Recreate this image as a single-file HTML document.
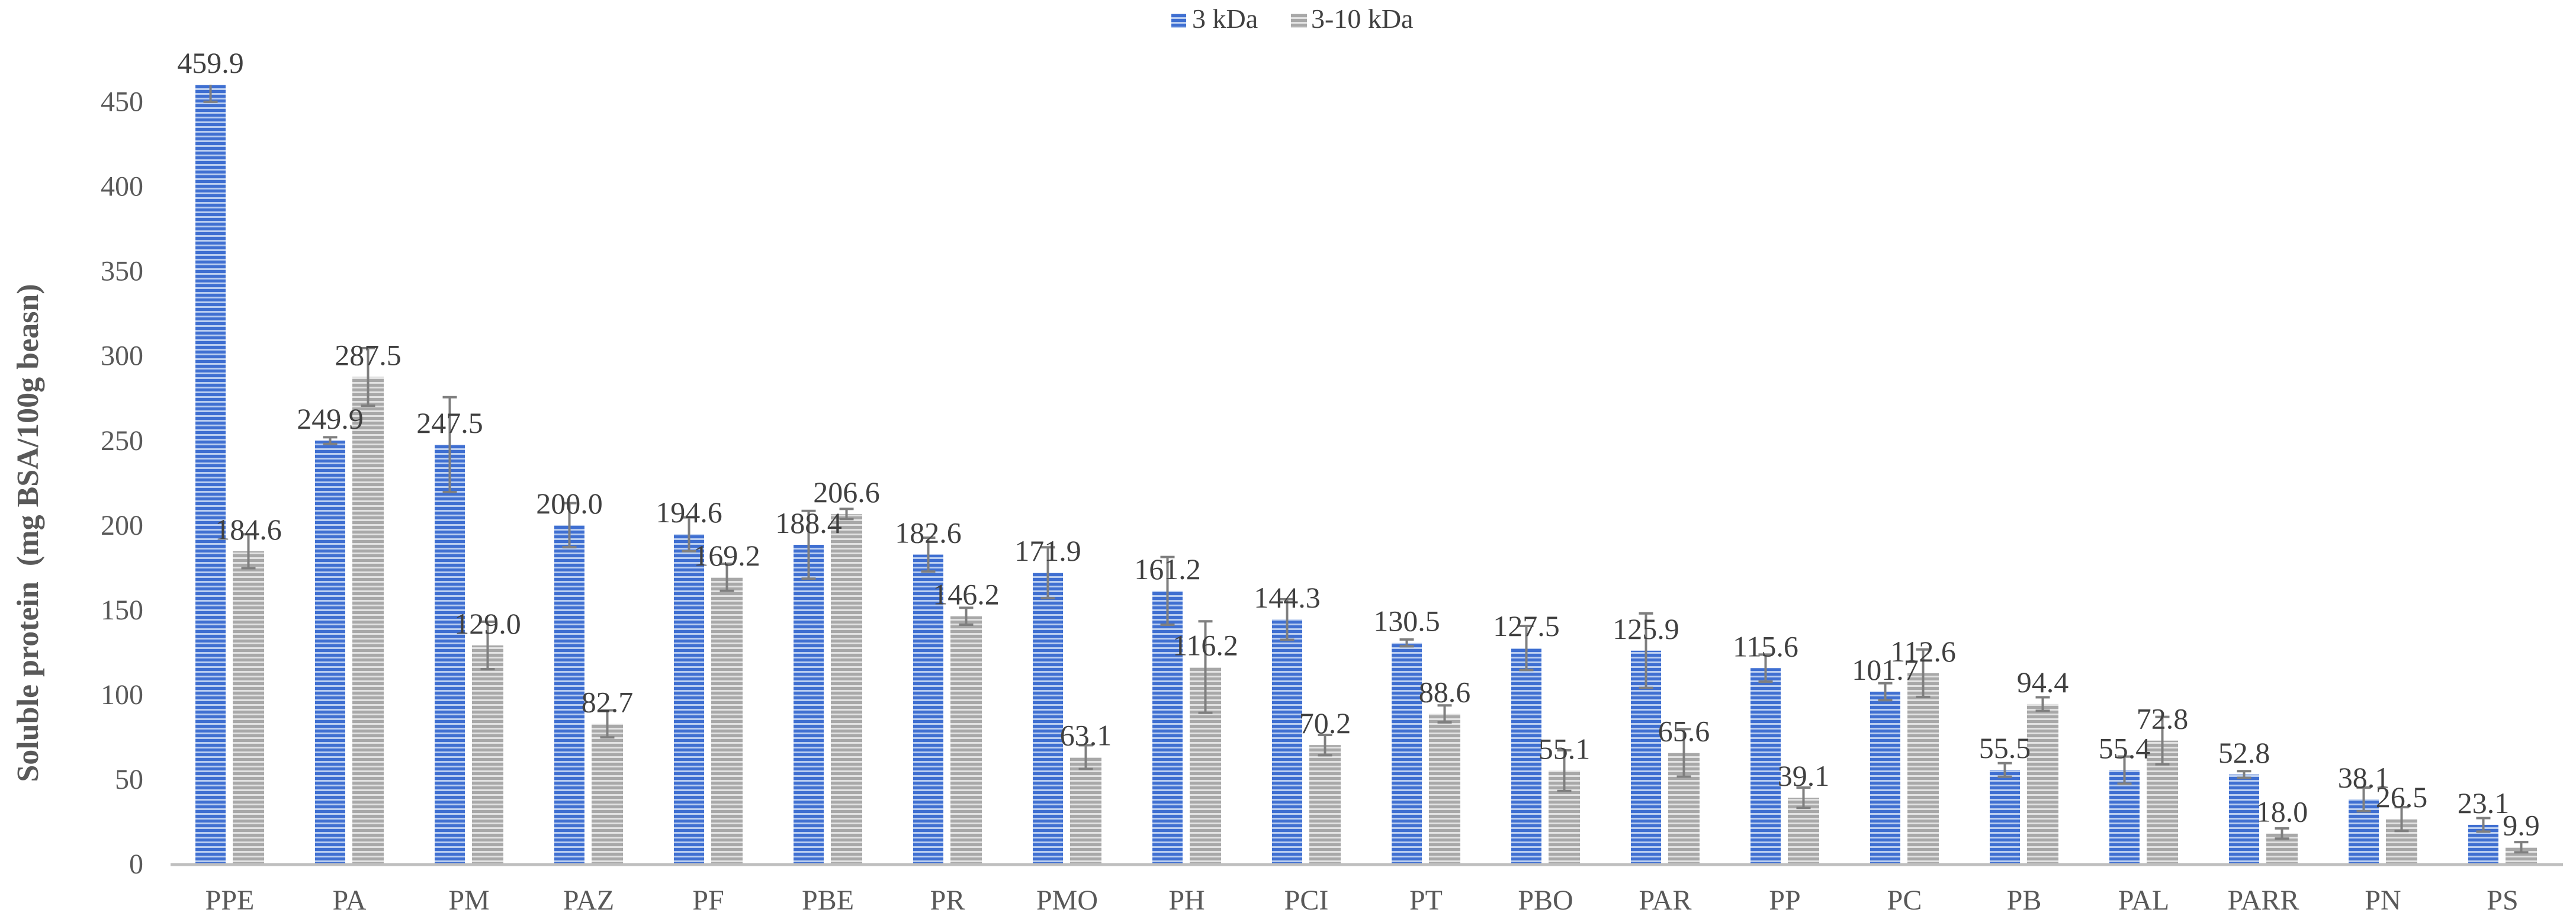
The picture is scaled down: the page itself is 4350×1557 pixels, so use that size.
<!DOCTYPE html>
<html><head><meta charset="utf-8"><style>
html,body{margin:0;padding:0;background:#fff;}
svg{display:block;font-family:"Liberation Serif",serif;}
</style></head><body>
<svg id="chart" width="4350" height="1557" viewBox="0 0 4350 1557">
<defs>
<pattern id="pBlue" width="8" height="8" patternUnits="userSpaceOnUse">
<rect width="8" height="8" fill="#3f6fd1"/><rect y="5" width="8" height="3" fill="#b9cdf0"/></pattern>
<pattern id="pGray" width="8" height="8" patternUnits="userSpaceOnUse">
<rect width="8" height="8" fill="#a8a8a8"/><rect y="5" width="8" height="3" fill="#e2e2e2"/></pattern>
</defs>
<g>
<rect x="1978" y="23" width="25" height="24" fill="url(#pBlue)"/>
<text x="2013" y="47" font-size="46" fill="#404040">3 kDa</text>
<rect x="2180" y="23" width="27" height="24" fill="url(#pGray)"/>
<text x="2214" y="47" font-size="46" fill="#404040">3-10 kDa</text>
</g>
<text transform="translate(64,900) rotate(-90)" text-anchor="middle" font-size="52" font-weight="bold" fill="#595959">Soluble protein&#160;&#160;(mg BSA/100g beasn)</text>
<g id="yaxis"></g>
<g id="bars"></g>
<g id="xaxis"></g>
</svg>
<script>
const categories = ["PPE","PA","PM","PAZ","PF","PBE","PR","PMO","PH","PCI","PT","PBO","PAR","PP","PC","PB","PAL","PARR","PN","PS"];
const valuesSmall = [459.9,249.9,247.5,200.0,194.6,188.4,182.6,171.9,161.2,144.3,130.5,127.5,125.9,115.6,101.7,55.5,55.4,52.8,38.1,23.1];
const valuesLarge = [184.6,287.5,129.0,82.7,169.2,206.6,146.2,63.1,116.2,70.2,88.6,55.1,65.6,39.1,112.6,94.4,72.8,18.0,26.5,9.9];
const errSmall = [10,2,28,13,10,20,10,15,20,12,2,13,22,8,5,4,8,2,7,4];
const errLarge = [10,17,14,8,8,3,5,7,27,6,5,12,14,6,14,4,14,3,7,3];
const yTicks = [0,50,100,150,200,250,300,350,400,450];
const labelSmall = ["459.9","249.9","247.5","200.0","194.6","188.4","182.6","171.9","161.2","144.3","130.5","127.5","125.9","115.6","101.7","55.5","55.4","52.8","38.1","23.1"];
const labelLarge = ["184.6","287.5","129.0","82.7","169.2","206.6","146.2","63.1","116.2","70.2","88.6","55.1","65.6","39.1","112.6","94.4","72.8","18.0","26.5","9.9"];

const NS="http://www.w3.org/2000/svg";
const x0=288, step=202, base=1459, pxPer=2.861;
const y=v=>base-v*pxPer;
const xCat=i=>x0+step*i;
function mk(tag,attrs,parent){const e=document.createElementNS(NS,tag);for(const k in attrs)e.setAttribute(k,attrs[k]);parent.appendChild(e);return e;}
const yaxis=document.getElementById('yaxis'), bars=document.getElementById('bars'), xaxis=document.getElementById('xaxis');
yTicks.forEach(t=>{
  const e=mk('text',{x:242,y:y(t)+16,'text-anchor':'end','font-size':48,fill:'#595959'},yaxis);
  e.textContent=t;
  
  
});
const axl=mk('line',{x1:x0,x2:x0+step*20,y1:base+1,y2:base+1,stroke:'#bfbfbf','stroke-width':5},xaxis);


const labelsLayer=[];
function drawBar(i,v,err,lab,off,w,fill,name){
  const bx=xCat(i)+off;
  const r=mk('rect',{x:bx,y:y(v),width:w,height:v*pxPer,fill:fill},bars);
  
  
  const cx=bx+w/2;
  labelsLayer.push({cx:cx,v:v,lab:lab});
  const g=mk('g',{stroke:'#7f7f7f','stroke-width':4},bars);
  
  
  const top=Math.max(y(v+err),143);
  mk('line',{x1:cx,x2:cx,y1:top,y2:y(v-err)},g);
  mk('line',{x1:cx-12,x2:cx+12,y1:y(v-err),y2:y(v-err)},g);
  if(y(v+err)>=143) mk('line',{x1:cx-12,x2:cx+12,y1:y(v+err),y2:y(v+err)},g);
}
categories.forEach((c,i)=>{
  drawBar(i,valuesSmall[i],errSmall[i],labelSmall[i],42,51,'url(#pBlue)','bar-3kda-'+c.toLowerCase());
  drawBar(i,valuesLarge[i],errLarge[i],labelLarge[i],105,53,'url(#pGray)','bar-3-10kda-'+c.toLowerCase());
  const t=mk('text',{x:xCat(i)+100,y:1536,'text-anchor':'middle','font-size':48,fill:'#595959'},xaxis);
  t.textContent=c;
  
  
});
labelsLayer.forEach(o=>{
  const t=mk('text',{x:o.cx,y:y(o.v)-20,'text-anchor':'middle','font-size':50,fill:'#404040'},bars);
  t.textContent=o.lab;
  
  
});
</script>
</body></html>
